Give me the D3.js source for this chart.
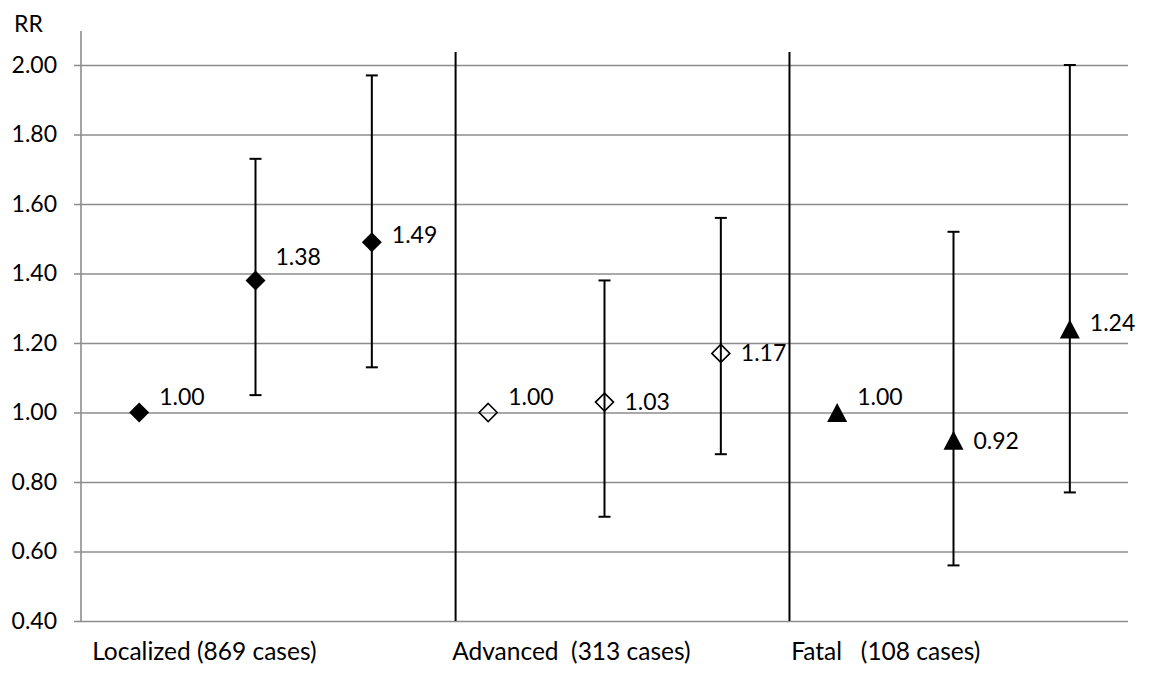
<!DOCTYPE html>
<html>
<head>
<meta charset="utf-8">
<script src="https://cdn.jsdelivr.net/npm/d3@7"></script>
<style>
  body { margin: 0; background: #fff; }
  text { font-family: Lato, "Open Sans", sans-serif; fill: #000; }
</style>
</head>
<body>
<div class="canvas"></div>
<script>
// what to show
var groups = ['Localized (869 cases)', 'Advanced  (313 cases)', 'Fatal   (108 cases)'],
    markers = ['diamond', 'diamondOpen', 'triangle'];

var rr     = [1.00, 1.38, 1.49, 1.00, 1.03, 1.17, 1.00, 0.92, 1.24],
    ciLow  = [null, 1.05, 1.13, null, 0.70, 0.88, null, 0.56, 0.77],
    ciHigh = [null, 1.73, 1.97, null, 1.38, 1.56, null, 1.52, 2.00];

var yTicks = [0.40, 0.60, 0.80, 1.00, 1.20, 1.40, 1.60, 1.80, 2.00];

// where does it live
var width = 1150,
    height = 673,
    plot = { left: 81, right: 1128, top: 65, bottom: 621 },
    fontSize = 23,
    groupFontSize = 24.5;

var svg = d3.select('.canvas').append('svg')
    .attr('width', width)
    .attr('height', height);

var x = d3.scaleLinear().domain([-0.5, rr.length - 0.5]).range([plot.left, plot.right]),
    y = d3.scaleLinear().domain([0.4, 2.0]).range([plot.bottom, plot.top]);

// grid lines, ticks stick out left of the axis
var yAxis = d3.axisLeft(y)
    .tickValues(yTicks)
    .tickFormat(d3.format('.2f'))
    .tickSize(-(plot.right - plot.left))
    .tickPadding(24);

var gy = svg.append('g')
    .attr('transform', 'translate(' + plot.left + ',0)')
    .call(yAxis);
gy.select('.domain').remove();
gy.selectAll('.tick line')
    .attr('x1', -7)
    .attr('stroke', '#8c8c8c')
    .attr('stroke-width', 1.6);
gy.selectAll('.tick text')
    .attr('font-size', fontSize)
    .attr('font-family', 'Lato, sans-serif')
    .attr('fill', '#000');

// vertical axis line
svg.append('line')
    .attr('x1', plot.left).attr('x2', plot.left)
    .attr('y1', 31).attr('y2', plot.bottom)
    .attr('stroke', '#8c8c8c')
    .attr('stroke-width', 1.6);

svg.append('text')
    .attr('x', 14)
    .attr('y', 32)
    .attr('font-size', fontSize)
    .text('RR');

// separators between the groups
var separators = [2.72, 5.59];
svg.selectAll('.sep')
    .data(separators)
    .enter()
    .append('line')
    .attr('x1', function (d) { return x(d); })
    .attr('x2', function (d) { return x(d); })
    .attr('y1', 52)
    .attr('y2', plot.bottom)
    .attr('stroke', '#000')
    .attr('stroke-width', 2);

// group labels under the axis
var groupShift = [-47, -36, -46];
svg.selectAll('.grp')
    .data(groups)
    .enter()
    .append('text')
    .attr('x', function (d, i) { return x(i * 3) + groupShift[i]; })
    .attr('y', 660)
    .attr('font-size', groupFontSize)
    .style('white-space', 'pre')
    .text(function (d) { return d; });

// error bars
var pts = rr.map(function (v, i) {
    return { i: i, v: v, lo: ciLow[i], hi: ciHigh[i], m: markers[Math.floor(i / 3)] };
});

var bars = svg.selectAll('.err')
    .data(pts.filter(function (d) { return d.lo !== null; }))
    .enter()
    .append('g')
    .attr('stroke', '#000')
    .attr('stroke-width', 2);

bars.append('line')
    .attr('x1', function (d) { return x(d.i); })
    .attr('x2', function (d) { return x(d.i); })
    .attr('y1', function (d) { return y(d.lo); })
    .attr('y2', function (d) { return y(d.hi); });
bars.append('line')
    .attr('x1', function (d) { return x(d.i) - 6; })
    .attr('x2', function (d) { return x(d.i) + 6; })
    .attr('y1', function (d) { return y(d.hi); })
    .attr('y2', function (d) { return y(d.hi); });
bars.append('line')
    .attr('x1', function (d) { return x(d.i) - 6; })
    .attr('x2', function (d) { return x(d.i) + 6; })
    .attr('y1', function (d) { return y(d.lo); })
    .attr('y2', function (d) { return y(d.lo); });

// markers
var shape = {
    diamond: 'M0,-10L10,0L0,10L-10,0Z',
    diamondOpen: 'M0,-9L9,0L0,9L-9,0Z',
    triangle: 'M0,-9.5L10,9.5L-10,9.5Z'
};

svg.selectAll('.pt')
    .data(pts)
    .enter()
    .append('path')
    .attr('transform', function (d) { return 'translate(' + x(d.i) + ',' + y(d.v) + ')'; })
    .attr('d', function (d) { return shape[d.m]; })
    .attr('fill', function (d) { return d.m === 'diamondOpen' ? 'none' : '#000'; })
    .attr('stroke', '#000')
    .attr('stroke-width', function (d) { return d.m === 'diamondOpen' ? 1.6 : 0; });

// value labels, nudged like the original
var labelUp = [16, 24, 7, 16, 0, 0, 16, -1, 6];
svg.selectAll('.lbl')
    .data(pts)
    .enter()
    .append('text')
    .attr('x', function (d) { return x(d.i) + 20; })
    .attr('y', function (d) { return y(d.v) - labelUp[d.i]; })
    .attr('dy', '0.35em')
    .attr('font-size', fontSize)
    .text(function (d) { return d.v.toFixed(2); });
</script>
</body>
</html>
